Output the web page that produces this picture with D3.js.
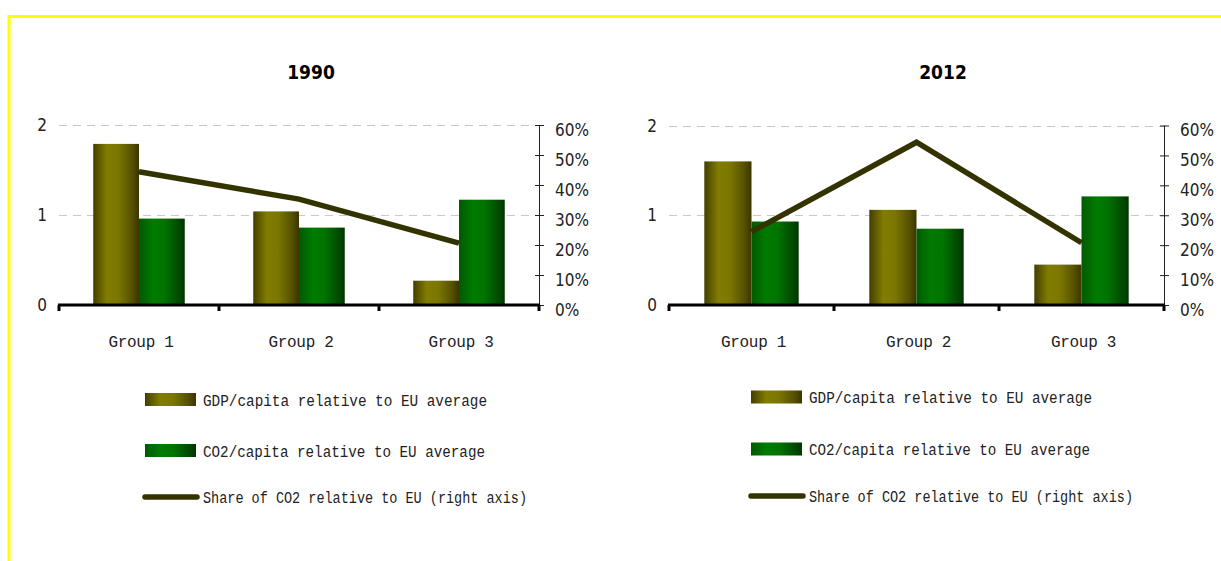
<!DOCTYPE html>
<html>
<head>
<meta charset="utf-8">
<script src="https://cdn.jsdelivr.net/npm/d3@7/dist/d3.min.js"></script>
<style>
  html, body { margin: 0; padding: 0; background: #ffffff; }
  svg { display: block; }
</style>
</head>
<body>
<svg id="chart" width="1221" height="561"></svg>
<script>
// ---- data ----
const groups = ["Group 1", "Group 2", "Group 3"];
const years = ["1990", "2012"];

// GDP per capita relative to EU average (left axis)
const gdp1990 = [1.79, 1.04, 0.27];
const gdp2012 = [1.60, 1.06, 0.45];
// CO2 per capita relative to EU average (left axis)
const co21990 = [0.96, 0.86, 1.17];
const co22012 = [0.93, 0.85, 1.21];
// Share of CO2 relative to EU (right axis)
const share1990 = [0.444, 0.353, 0.206];
const share2012 = [0.245, 0.544, 0.208];

const leftTicks = [0, 1, 2];
const rightTicks = [0, 0.1, 0.2, 0.3, 0.4, 0.5, 0.6];
const legendLabels = [
  "GDP/capita relative to EU average",
  "CO2/capita relative to EU average",
  "Share of CO2 relative to EU (right axis)"
];

// ---- drawing ----
const svg = d3.select("#chart");

// frame
svg.append("rect")
  .attr("x", 9).attr("y", 16.5)
  .attr("width", 1240).attr("height", 600)
  .attr("fill", "none")
  .attr("stroke", "#ffff00")
  .attr("stroke-width", 3);

const defs = svg.append("defs");
function gradient(id, stops) {
  const g = defs.append("linearGradient").attr("id", id)
    .attr("x1", "0%").attr("x2", "100%").attr("y1", "0%").attr("y2", "0%");
  stops.forEach(([o, c]) => g.append("stop").attr("offset", o).attr("stop-color", c));
}
gradient("gdpFill", [[0, "#433e00"], [0.3, "#827d00"], [0.55, "#7b7600"], [0.85, "#555000"], [1, "#3a3500"]]);
gradient("co2Fill", [[0, "#005a00"], [0.3, "#007b00"], [0.55, "#007400"], [0.85, "#004c00"], [1, "#003400"]]);

const lineColor = "#333300";
const numFont = "'DejaVu Sans Condensed', 'DejaVu Sans', sans-serif";
const textFont = "'Liberation Mono', 'Courier New', monospace";

const panels = [
  { year: years[0], gdp: gdp1990, co2: co21990, share: share1990,
    x0: 59, x1: 539, yBase: 305, yTop: 125, titleX: 311,
    legX: 145, legTextX: 203, legY: [399.5, 450.5, 497],
    legWidths: [284, 282, 324] },
  { year: years[1], gdp: gdp2012, co2: co22012, share: share2012,
    x0: 669, x1: 1164, yBase: 305, yTop: 125.5, titleX: 943,
    legX: 751, legTextX: 809, legY: [397, 449, 496],
    legWidths: [283, 281, 324] }
];

panels.forEach(p => {
  const g = svg.append("g");

  const x = d3.scaleBand().domain(groups).range([p.x0, p.x1]).padding(0);
  const yL = d3.scaleLinear().domain([0, 2]).range([p.yBase, p.yTop]);
  const yR = d3.scaleLinear().domain([0, 0.6]).range([p.yBase, p.yTop]);
  const barW = x.bandwidth() * 0.286;
  const cx = d => x(d) + x.bandwidth() / 2;

  // title
  g.append("text")
    .attr("x", p.titleX).attr("y", 79)
    .attr("text-anchor", "middle")
    .attr("font-family", numFont)
    .attr("font-weight", "bold")
    .attr("font-size", 19)
    .attr("fill", "#000")
    .text(p.year);

  // dashed gridlines
  g.selectAll("line.grid").data(leftTicks.filter(t => t > 0)).join("line")
    .attr("class", "grid")
    .attr("x1", p.x0).attr("x2", p.x1)
    .attr("y1", d => Math.round(yL(d)) + 0.5).attr("y2", d => Math.round(yL(d)) + 0.5)
    .attr("stroke", "#c8c8c8")
    .attr("stroke-dasharray", "8,6");

  // left axis labels
  g.selectAll("text.yl").data(leftTicks).join("text")
    .attr("class", "yl")
    .attr("x", p.x0 - 12)
    .attr("y", d => yL(d) + 6)
    .attr("text-anchor", "end")
    .attr("font-family", numFont)
    .attr("font-size", 17)
    .attr("fill", "#222")
    .text(d => d);

  // right axis
  const rAxis = d3.axisRight(yR).tickValues(rightTicks)
    .tickFormat(d3.format(".0%")).tickSize(5).tickPadding(11);
  const ra = g.append("g")
    .attr("transform", `translate(${p.x1},0)`)
    .call(rAxis);
  ra.select(".domain").attr("stroke", "#222").attr("d", `M0.5,${p.yTop}V${p.yBase}`);
  ra.selectAll(".tick line").attr("x1", -4).attr("x2", 5).attr("stroke", "#222");
  ra.selectAll(".tick text")
    .attr("font-family", numFont)
    .attr("font-size", 17)
    .attr("fill", "#222")
    .attr("dy", "0.6em");

  // bars
  g.selectAll("rect.gdp").data(groups).join("rect")
    .attr("class", "gdp")
    .attr("x", d => cx(d) - barW)
    .attr("width", barW)
    .attr("y", (d, i) => yL(p.gdp[i]))
    .attr("height", (d, i) => yL(0) - yL(p.gdp[i]))
    .attr("fill", "url(#gdpFill)");
  g.selectAll("rect.co2").data(groups).join("rect")
    .attr("class", "co2")
    .attr("x", d => cx(d))
    .attr("width", barW)
    .attr("y", (d, i) => yL(p.co2[i]))
    .attr("height", (d, i) => yL(0) - yL(p.co2[i]))
    .attr("fill", "url(#co2Fill)");

  // x axis: thick baseline with downward ticks at category boundaries
  const xa = g.append("g").attr("transform", `translate(0,${p.yBase})`);
  xa.append("line")
    .attr("x1", p.x0 - 1).attr("x2", p.x1 + 1)
    .attr("y1", 0).attr("y2", 0)
    .attr("stroke", "#000").attr("stroke-width", 3);
  const bounds = groups.map(d => x(d)).concat([p.x1]);
  xa.selectAll("line.tk").data(bounds).join("line")
    .attr("class", "tk")
    .attr("x1", d => d).attr("x2", d => d)
    .attr("y1", 0).attr("y2", 6)
    .attr("stroke", "#000").attr("stroke-width", 3);
  xa.selectAll("text").data(groups).join("text")
    .attr("x", d => cx(d) + 2)
    .attr("y", 42)
    .attr("text-anchor", "middle")
    .attr("font-family", textFont)
    .attr("font-size", 16)
    .attr("letter-spacing", -0.3)
    .attr("fill", "#222")
    .text(d => d);

  // share line (right axis)
  const line = d3.line().x(d => cx(d)).y((d, i) => yR(p.share[i]));
  g.append("path")
    .datum(groups)
    .attr("d", line)
    .attr("fill", "none")
    .attr("stroke", lineColor)
    .attr("stroke-width", 5.5);

  // legend
  const leg = g.append("g");
  leg.append("rect")
    .attr("x", p.legX).attr("y", p.legY[0] - 6.5)
    .attr("width", 51).attr("height", 13)
    .attr("fill", "url(#gdpFill)");
  leg.append("rect")
    .attr("x", p.legX).attr("y", p.legY[1] - 6.5)
    .attr("width", 51).attr("height", 13)
    .attr("fill", "url(#co2Fill)");
  leg.append("line")
    .attr("x1", p.legX).attr("x2", p.legX + 52)
    .attr("y1", p.legY[2]).attr("y2", p.legY[2])
    .attr("stroke", lineColor)
    .attr("stroke-width", 5.5)
    .attr("stroke-linecap", "round");
  leg.selectAll("text").data(legendLabels).join("text")
    .attr("x", p.legTextX)
    .attr("y", (d, i) => p.legY[i] + 6)
    .attr("font-family", textFont)
    .attr("font-size", 16)
    .attr("textLength", (d, i) => p.legWidths[i])
    .attr("lengthAdjust", "spacingAndGlyphs")
    .attr("fill", "#222")
    .text(d => d);
});
</script>
</body>
</html>
